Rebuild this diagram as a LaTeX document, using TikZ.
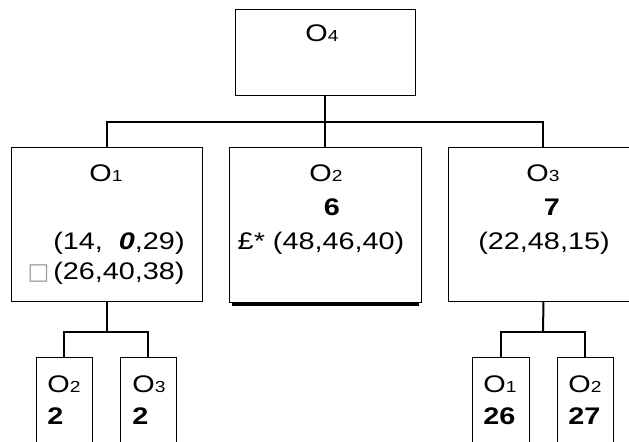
\documentclass[tikz,border=0pt]{standalone}
\usepackage{fontspec}
\setmainfont{Liberation Sans}[FakeStretch=1.2]
\newfontfamily\symfont{DejaVu Sans}
\usepackage{tikz}
\usetikzlibrary{positioning}
\definecolor{ink}{HTML}{000000}
\definecolor{hollow}{HTML}{9A9A9A}
\newcommand{\idx}[1]{{\fontsize{8}{9}\selectfont #1}}

\begin{document}
\begin{tikzpicture}[
  x=0.5pt, y=-0.5pt,
  font=\fontsize{12}{14}\selectfont,
  box/.style={draw=ink, line width=0.5pt, inner sep=0pt, anchor=north west},
  conn/.style={draw=ink, line width=1pt},
  txt/.style={inner sep=0pt, anchor=base}
]
\useasboundingbox (0,0) rectangle (629,442);
% boxes
\node[box, minimum width=90pt, minimum height=43pt] (o4) at (235,9) {};
\node[box, minimum width=95.5pt, minimum height=77pt] (o1) at (11,147) {};
\node[box, minimum width=96pt, minimum height=77.5pt] (o2) at (229,147) {};
\node[box, minimum width=95pt, minimum height=77pt] (o3) at (448,147) {};
\node[box, minimum width=28pt, minimum height=55pt] (c1) at (36,357) {};
\node[box, minimum width=28pt, minimum height=55pt] (c2) at (120,357) {};
\node[box, minimum width=28.5pt, minimum height=55pt] (c3) at (472,357) {};
\node[box, minimum width=28pt, minimum height=55pt] (c4) at (557,357) {};
\draw[line width=2pt, ink] ([xshift=1.5pt,yshift=-0.7pt]o2.south west) -- ([xshift=-1.5pt,yshift=-0.7pt]o2.south east);
% connectors
\coordinate (bus) at (325,122);
\coordinate (lbus) at (107,332);
\coordinate (rbus) at (543,332);
\draw[conn] (o4.south) -- (o2.north);
\draw[conn] (o1.north) |- (o3.north |- bus) -- (o3.north);
\draw[conn] (o1.south) -- (lbus);
\draw[conn] (c1.north) |- (c2.north |- lbus) -- (c2.north);
\draw[conn] (o3.south) -- (rbus);
\draw[conn] (c3.north) |- (c4.north |- rbus) -- (c4.north);
% labels
\node[txt] (t4) at (322,42) {O\idx{4}};
\node[txt] (t1) at (106,182) {O\idx{1}};
\node[txt, anchor=base east] (t1a) at (185,250) {(14,\ \ \textbf{\textit{0}},29)};
\node[txt, anchor=base east] (t1b) at (185,280) {{\symfont\color{hollow}\fontsize{11.5}{12}\selectfont □}\,(26,40,38)};
\node[txt] (t2) at (326,182) {O\idx{2}};
\node[txt] (t2a) at (332,216) {\textbf{6}};
\node[txt] (t2b) at (321,250) {£* (48,46,40)};
\node[txt] (t3) at (543,182) {O\idx{3}};
\node[txt] (t3a) at (552,216) {\textbf{7}};
\node[txt] (t3b) at (544,250) {(22,48,15)};
\node[txt, anchor=base west] (s1) at (47,393) {O\idx{2}};
\node[txt, anchor=base west] (s1a) at (47,425) {\textbf{2}};
\node[txt, anchor=base west] (s2) at (132,393) {O\idx{3}};
\node[txt, anchor=base west] (s2a) at (132,425) {\textbf{2}};
\node[txt, anchor=base west] (s3) at (483,393) {O\idx{1}};
\node[txt, anchor=base west] (s3a) at (483,425) {\textbf{26}};
\node[txt, anchor=base west] (s4) at (568,393) {O\idx{2}};
\node[txt, anchor=base west] (s4a) at (568,425) {\textbf{27}};
\end{tikzpicture}
\end{document}
